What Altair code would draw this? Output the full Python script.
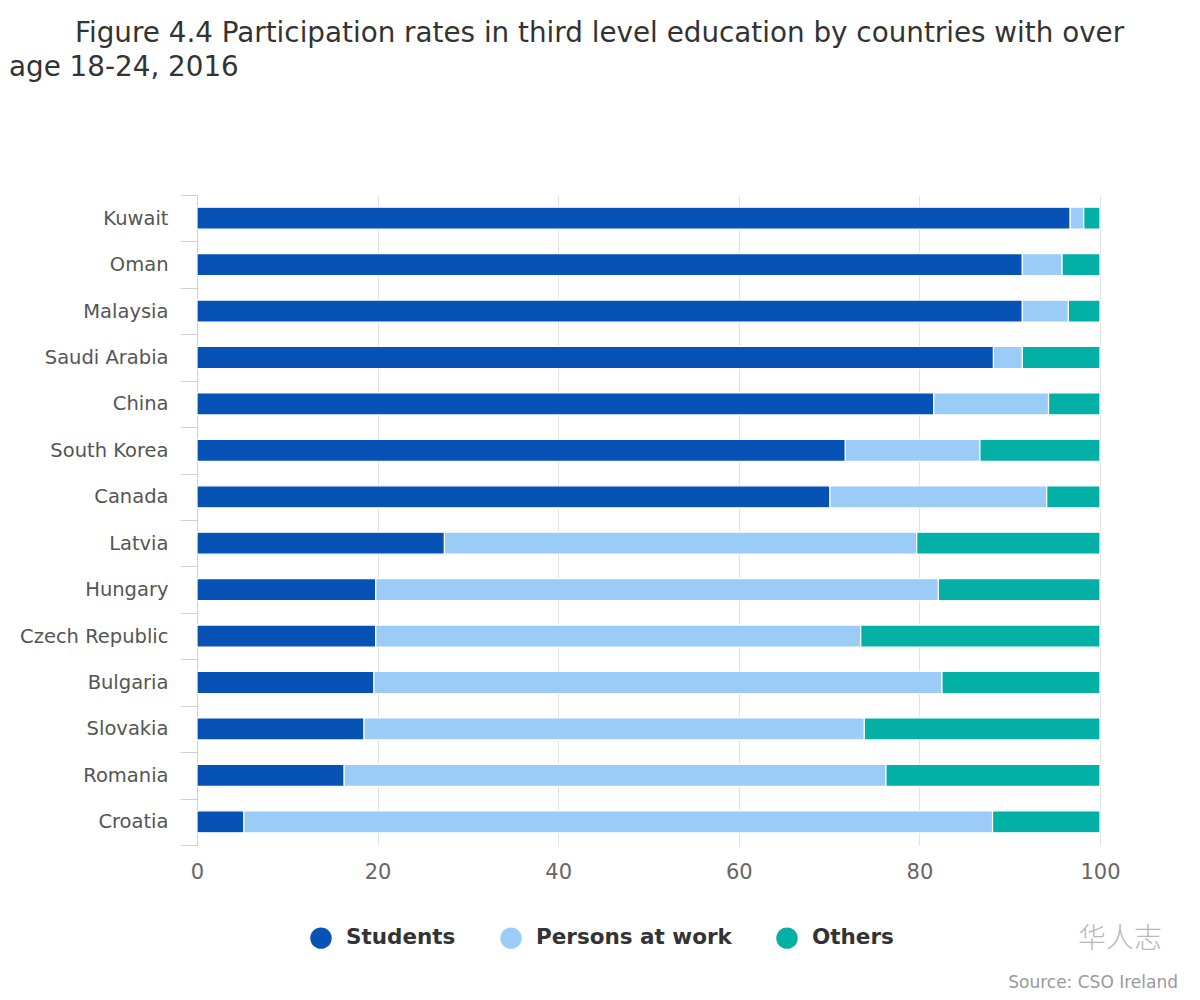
import altair as alt
import pandas as pd

countries = ["Kuwait", "Oman", "Malaysia", "Saudi Arabia", "China", "South Korea", "Canada",
             "Latvia", "Hungary", "Czech Republic", "Bulgaria", "Slovakia", "Romania", "Croatia"]
students = [96.7, 91.4, 91.4, 88.2, 81.6, 71.8, 70.1, 27.4, 19.8, 19.8, 19.6, 18.5, 16.3, 5.2]
work = [1.5, 4.4, 5.1, 3.2, 12.7, 14.9, 24.0, 52.3, 62.3, 53.7, 62.9, 55.4, 60.0, 82.9]
others = [1.8, 4.2, 3.5, 8.6, 5.7, 13.3, 5.9, 20.3, 17.9, 26.5, 17.5, 26.1, 23.7, 11.9]
series = ["Students", "Persons at work", "Others"]
colors = ["#0652b5", "#9bcbf7", "#03b0a6"]
x_ticks = [0, 20, 40, 60, 80, 100]

rows = []
for i, c in enumerate(countries):
    for k, (s, vals) in enumerate(zip(series, [students, work, others])):
        rows.append({"country": c, "series": s, "value": vals[i], "order": k})
df = pd.DataFrame(rows)

FONT = "DejaVu Sans"

bars = alt.Chart(df).mark_bar(size=22, stroke="white", strokeWidth=1.2).encode(
    y=alt.Y("country:N", sort=countries, title=None,
            scale=alt.Scale(paddingInner=0, paddingOuter=0),
            axis=alt.Axis(tickBand="extent", tickSize=17, tickColor="#d0d0d0",
                          domainColor="#d0d0d0", labelPadding=12, labelFontSize=19.5,
                          labelColor="#555555", labelFont=FONT, grid=False)),
    x=alt.X("value:Q", stack="zero", title=None,
            scale=alt.Scale(domain=[0, 100], nice=False),
            axis=alt.Axis(values=x_ticks, ticks=False, domain=False, gridColor="#e2e2e2",
                          labelPadding=16, labelFontSize=21, labelColor="#666666",
                          labelFont=FONT, labelFlush=False)),
    color=alt.Color("series:N", scale=alt.Scale(domain=series, range=colors),
                    legend=alt.Legend(orient="none", legendX=113, legendY=732,
                                      direction="horizontal", title=None,
                                      symbolType="circle", symbolSize=460,
                                      symbolStrokeWidth=0, labelFontSize=21.5,
                                      labelFontWeight="bold", labelColor="#333333",
                                      labelFont=FONT, columnPadding=44, labelLimit=0,
                                      labelOffset=14, padding=0)),
    order=alt.Order("order:Q"),
)

title1 = alt.Chart(pd.DataFrame({"t": ["Figure 4.4 Participation rates in third level education by countries with over"]})).mark_text(
    align="left", baseline="middle", fontSize=27.8, font=FONT, color="#333333"
).encode(x=alt.value(75 - 197), y=alt.value(34 - 195), text="t:N")

title2 = alt.Chart(pd.DataFrame({"t": ["age 18-24, 2016"]})).mark_text(
    align="left", baseline="middle", fontSize=27.8, font=FONT, color="#333333"
).encode(x=alt.value(9 - 197), y=alt.value(68 - 195), text="t:N")

source = alt.Chart(pd.DataFrame({"t": ["Source: CSO Ireland"]})).mark_text(
    align="right", baseline="middle", fontSize=17, font=FONT, color="#9a9a9a"
).encode(x=alt.value(1178 - 197), y=alt.value(983 - 195), text="t:N")

mark = alt.Chart(pd.DataFrame({"t": ["华人志"]})).mark_text(
    align="right", baseline="middle", fontSize=28, font="Noto Sans CJK SC", fontWeight=300,
    color="#b8b8b8"
).encode(x=alt.value(1162 - 197), y=alt.value(940 - 195), text="t:N")

chart = alt.layer(bars, title1, title2, source, mark).properties(
    width=903, height=650,
    padding={"left": 189, "top": 187, "right": 92, "bottom": 150},
    autosize=alt.AutoSizeParams(type="none"),
    background="white",
).configure_view(stroke=None)

chart.save("out.html", embed_options={"renderer": "svg", "actions": False})
